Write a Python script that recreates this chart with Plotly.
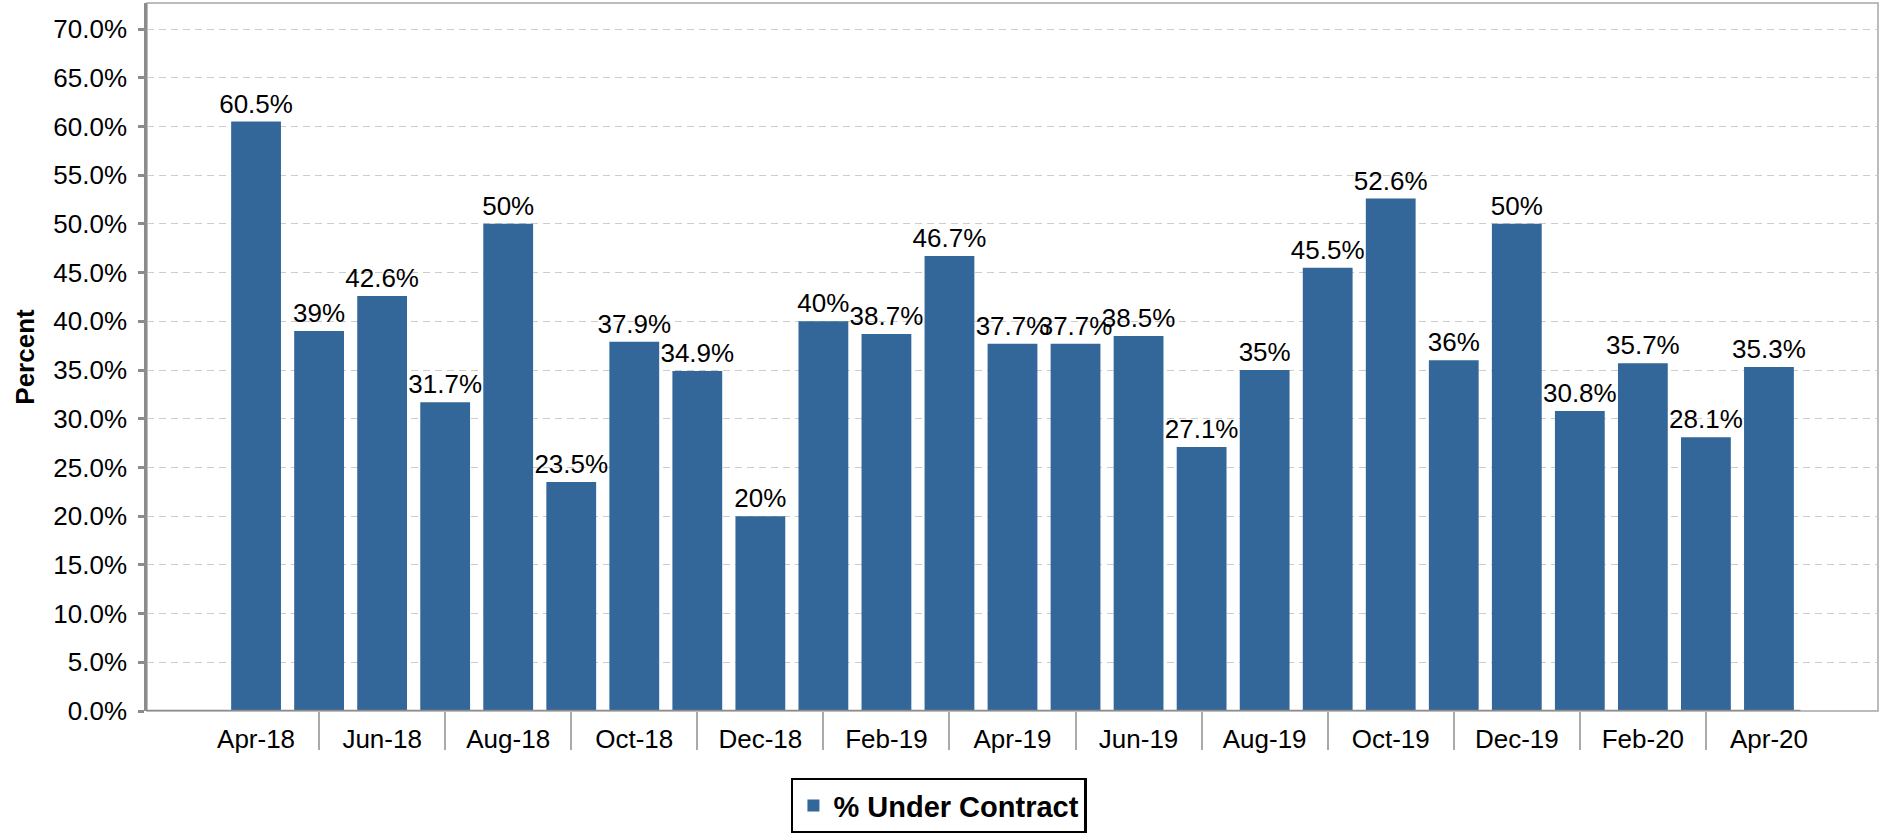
import plotly.graph_objects as go

months = ["Apr-18", "May-18", "Jun-18", "Jul-18", "Aug-18", "Sep-18", "Oct-18", "Nov-18",
          "Dec-18", "Jan-19", "Feb-19", "Mar-19", "Apr-19", "May-19", "Jun-19", "Jul-19",
          "Aug-19", "Sep-19", "Oct-19", "Nov-19", "Dec-19", "Jan-20", "Feb-20", "Mar-20", "Apr-20"]
under_contract = [60.5, 39, 42.6, 31.7, 50, 23.5, 37.9, 34.9, 20, 40, 38.7, 46.7, 37.7, 37.7,
                  38.5, 27.1, 35, 45.5, 52.6, 36, 50, 30.8, 35.7, 28.1, 35.3]
series_name = "% Under Contract"
y_title = "Percent"

idx = list(range(len(months)))
label_idx = idx[::2]
label_text = months[::2]
divider_idx = idx[1::2]

FONT = "Liberation Sans, Arial, Helvetica, sans-serif"
BAR = "#336699"
AXIS = "#8c8c8c"

fig = go.Figure()
fig.add_trace(go.Bar(
    x=idx, y=under_contract, name=series_name,
    marker=dict(color=BAR, line=dict(width=0)),
    width=0.79,
    text=[f"{v:g}%" for v in under_contract],
    textposition="outside", constraintext="none", cliponaxis=False,
    textfont=dict(family=FONT, size=26, color="#000000"),
    hoverinfo="x+y",
))

xmin, xmax = -1.73, 25.73
fig.update_layout(
    width=1881, height=833,
    margin=dict(l=147, r=3, t=3, b=122, autoexpand=False),
    paper_bgcolor="white", plot_bgcolor="white",
    font=dict(family=FONT, color="#000000"),
    showlegend=True,
    legend=dict(
        orientation="h", x=0.4575, xanchor="center", y=-0.094, yanchor="top",
        bordercolor="#000000", borderwidth=2.5, bgcolor="white",
        font=dict(family=FONT, size=29, color="#000000", weight="bold"),
    ),
    bargap=0.2,
    xaxis=dict(
        range=[xmin, xmax], showgrid=False, zeroline=False, showline=False,
        automargin=False,
        tickmode="array", tickvals=label_idx, ticktext=label_text,
        ticks="", tickfont=dict(family=FONT, size=26, color="#000000"),
        ticklabelstandoff=10,
        minor=dict(tickmode="array", tickvals=divider_idx, ticks="outside",
                   ticklen=38, tickwidth=1.5, tickcolor="#aaaaaa", showgrid=False),
    ),
    yaxis=dict(
        range=[0, 72.67], dtick=5, tick0=0, tickformat=".1f", ticksuffix="%",
        automargin=False,
        showgrid=True, gridcolor="#cccccc", gridwidth=1, griddash="7px,5px",
        zeroline=False, showline=True, linecolor=AXIS, linewidth=2.5,
        ticks="outside", ticklen=6, tickwidth=2.5, tickcolor=AXIS,
        tickfont=dict(family=FONT, size=26, color="#000000"),
        ticklabelstandoff=6,
        title=dict(text=y_title, font=dict(family=FONT, size=26, color="#000000", weight="bold"),
                   standoff=12),
    ),
    shapes=[
        dict(type="rect", xref="paper", yref="paper", x0=0, x1=1, y0=0, y1=1,
             line=dict(color="#a6a6a6", width=1.5), layer="below"),
        dict(type="line", xref="x", yref="y", x0=xmin, x1=idx[-1] + 0.5, y0=0, y1=0,
             line=dict(color=AXIS, width=2.5), layer="above"),
    ],
)

fig.write_html("out.html",
               config={"displayModeBar": False},
               post_script="document.body.style.margin='0';document.body.style.overflow='hidden';")
